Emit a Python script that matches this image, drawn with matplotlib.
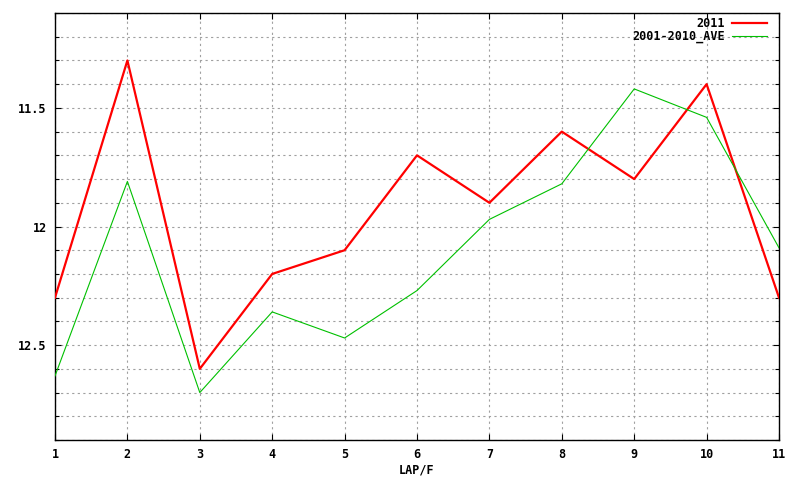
import matplotlib
matplotlib.use("Agg")
import matplotlib.pyplot as plt
import numpy as np
from matplotlib.ticker import MultipleLocator

laps = [1, 2, 3, 4, 5, 6, 7, 8, 9, 10, 11]
y2011 = [12.30, 11.30, 12.60, 12.20, 12.10, 11.70, 11.90, 11.60, 11.80, 11.40, 12.30]
yave = [12.63, 11.81, 12.70, 12.36, 12.47, 12.27, 11.97, 11.82, 11.42, 11.54, 12.09]
ytick_vals = [11.5, 12.0, 12.5]
ytick_labels = ["11.5", "12", "12.5"]

fig = plt.figure(figsize=(8, 4.8), dpi=100)
ax = fig.add_axes([55/800, 1-440/480, (779-55)/800, (440-13)/480])

font = {"family": "DejaVu Sans Mono", "weight": "bold", "size": 8.5}

ax.plot(laps, y2011, color="#ff0000", lw=1.6, label="2011", zorder=3)
ax.plot(laps, yave, color="#00c000", lw=0.8, label="2001-2010_AVE", zorder=3)

ax.set_xlim(1, 11)
ax.set_ylim(12.9, 11.1)
ax.set_xticks(laps)
ax.set_xticklabels([str(v) for v in laps], fontdict=font)
ax.set_yticks(ytick_vals)
ax.set_yticklabels(ytick_labels, fontdict=font)
ax.yaxis.set_minor_locator(MultipleLocator(0.1))

ax.grid(True, which="both", axis="y", color="#a0a0a0", ls=(0, (2, 3)), lw=0.8)
ax.grid(True, which="major", axis="x", color="#a0a0a0", ls=(0, (2, 3)), lw=0.8)
ax.tick_params(which="both", direction="in", top=True, right=True, length=4, width=0.8, pad=6)
ax.tick_params(which="minor", length=3)
for s in ax.spines.values():
    s.set_linewidth(1.0)

ax.set_xlabel("LAP/F", fontdict=font)
ax.xaxis.set_label_coords(0.5, -(470-440)/427, transform=ax.transAxes)
ax.xaxis.label.set_va("center")

leg = ax.legend(loc="upper right", frameon=False, markerfirst=False,
                prop={"family": "DejaVu Sans Mono", "weight": "bold", "size": 8.5},
                handlelength=3.0, handletextpad=0.6, labelspacing=0.0,
                borderaxespad=0.0, bbox_to_anchor=(1 - 7/724, 1 + 1/427))
for t in leg.get_texts():
    t.set_ha("right")

fig.savefig("out.png", dpi=100)
